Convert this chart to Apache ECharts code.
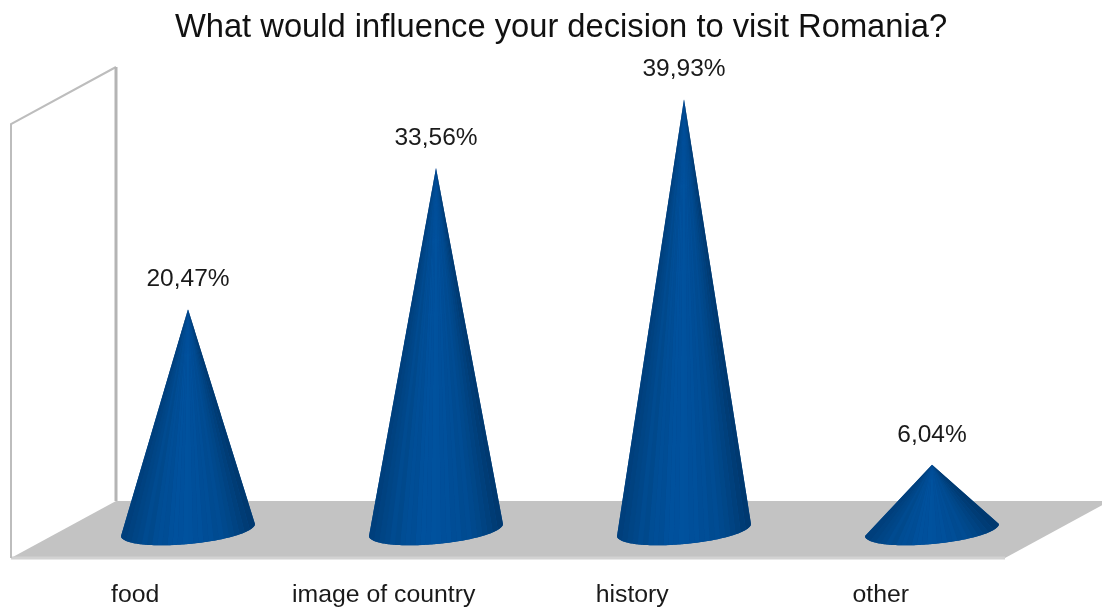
<!DOCTYPE html>
<html>
<head>
<meta charset="utf-8">
<style>html,body{margin:0;padding:0;background:#fff}#c{width:1102px;height:609px}</style>
<script src="https://cdn.jsdelivr.net/npm/echarts@6/dist/echarts.min.js"></script>
</head>
<body>
<div id="c"></div>
<script>
var titleText = 'What would influence your decision to visit Romania?';
var categories = ['food', 'image of country', 'history', 'other'];
var values = [20.47, 33.56, 39.93, 6.04];
var labels = ['20,47%', '33,56%', '39,93%', '6,04%'];

var FONT = '"Liberation Sans", Arial, sans-serif';
var DEPTH_X = 105, DEPTH_Y = -57;
var coneShades = [
  '#003f7c', '#004280', '#004585', '#004789', '#004b90', '#00498c', '#004d94', '#004e97',
  '#004d95', '#00509b', '#00519d', '#00509c', '#00529e', '#00519d', '#004f9a', '#00509b',
  '#004d96', '#004e97', '#004b91', '#004c93', '#00498d', '#004788', '#004382', '#00407c',
  '#003c75', '#003970'
];

function renderFrame(params, api) {
  var g = params.coordSys;
  var l = g.x, r = g.x + g.width, t = g.y, b = g.y + g.height;
  return {
    type: 'group',
    children: [
      { type: 'polygon', shape: { points: [[l, b], [l + DEPTH_X, b + DEPTH_Y], [r + DEPTH_X, b + DEPTH_Y], [r, b]] },
        style: { fill: '#c3c3c3' } },
      { type: 'line', shape: { x1: l, y1: b, x2: r, y2: b }, style: { stroke: '#d2d2d2', lineWidth: 3 } },
      { type: 'polyline', shape: { points: [[l, b], [l, t], [l + DEPTH_X, t + DEPTH_Y]] },
        style: { fill: null, stroke: '#bdbdbd', lineWidth: 2 } },
      { type: 'line', shape: { x1: l + DEPTH_X, y1: t + DEPTH_Y, x2: l + DEPTH_X, y2: b + DEPTH_Y },
        style: { stroke: '#b4b4b4', lineWidth: 3 } }
    ]
  };
}

function renderCone(params, api) {
  var tip = api.coord([api.value(0), api.value(1)]);
  var base = api.coord([api.value(0), 0]);
  var band = api.size([1, 0])[0];
  var a = band * 0.27, skew = a * 0.09, b = a * 0.21;
  function rim(t) {
    return [base[0] + a * Math.cos(t), base[1] - skew * Math.cos(t) + b * Math.sin(t)];
  }
  var children = [];
  // solid silhouette underneath hides the anti-aliasing seams between wedges
  var outline = [tip];
  for (var k = 0; k <= 60; k++) outline.push(rim(Math.PI * k / 60));
  children.push({ type: 'polygon', shape: { points: outline }, style: { fill: '#004a90' } });
  // one wedge per shade, fanning from the apex, left edge to right edge
  var n = coneShades.length;
  for (var i = 0; i < n; i++) {
    // rim parameter runs from the right edge (0) to the left edge (pi)
    var t0 = Math.acos(1 - 2 * i / n);
    var t1 = Math.acos(1 - 2 * (i + 1) / n);
    var pts = [tip];
    for (var j = 0; j <= 4; j++) pts.push(rim(t0 + (t1 - t0) * j / 4));
    children.push({
      type: 'polygon',
      shape: { points: pts },
      style: { fill: coneShades[n - 1 - i] }
    });
  }
  children.push({
    type: 'text', x: tip[0], y: tip[1] - 30,
    style: { text: labels[params.dataIndex], font: '24.5px ' + FONT, fill: '#1a1a1a', align: 'center', verticalAlign: 'middle' }
  });
  return { type: 'group', children: children };
}

var chart = echarts.init(document.getElementById('c'), null, { renderer: 'canvas' });
chart.setOption({
  animation: false,
  backgroundColor: '#fff',
  title: {
    text: titleText, left: 556, top: 6, textAlign: 'center',
    textStyle: { fontFamily: FONT, fontSize: 32.7, fontWeight: 'normal', color: '#111' }
  },
  grid: [
    { left: 11, width: 994, top: 124, height: 434 },
    { left: 64, width: 992, top: 98.4, height: 431.6 }
  ],
  xAxis: [
    { type: 'category', gridIndex: 0, data: categories,
      axisLine: { show: false }, axisTick: { show: false },
      axisLabel: { margin: 25, fontFamily: FONT, fontSize: 24.8, color: '#1a1a1a' } },
    { type: 'category', gridIndex: 1, data: categories, show: false }
  ],
  yAxis: [
    { type: 'value', gridIndex: 0, min: 0, max: 40, show: false },
    { type: 'value', gridIndex: 1, min: 0, max: 40, show: false }
  ],
  series: [
    { type: 'custom', name: 'frame', xAxisIndex: 0, yAxisIndex: 0, z: 1, silent: true, clip: false,
      renderItem: renderFrame, data: [[0, 0]] },
    { type: 'custom', name: 'share', xAxisIndex: 1, yAxisIndex: 1, z: 2, clip: false,
      renderItem: renderCone,
      encode: { x: 0, y: 1 },
      data: values.map(function (v, i) { return [i, v]; }) }
  ]
});
</script>
</body>
</html>
